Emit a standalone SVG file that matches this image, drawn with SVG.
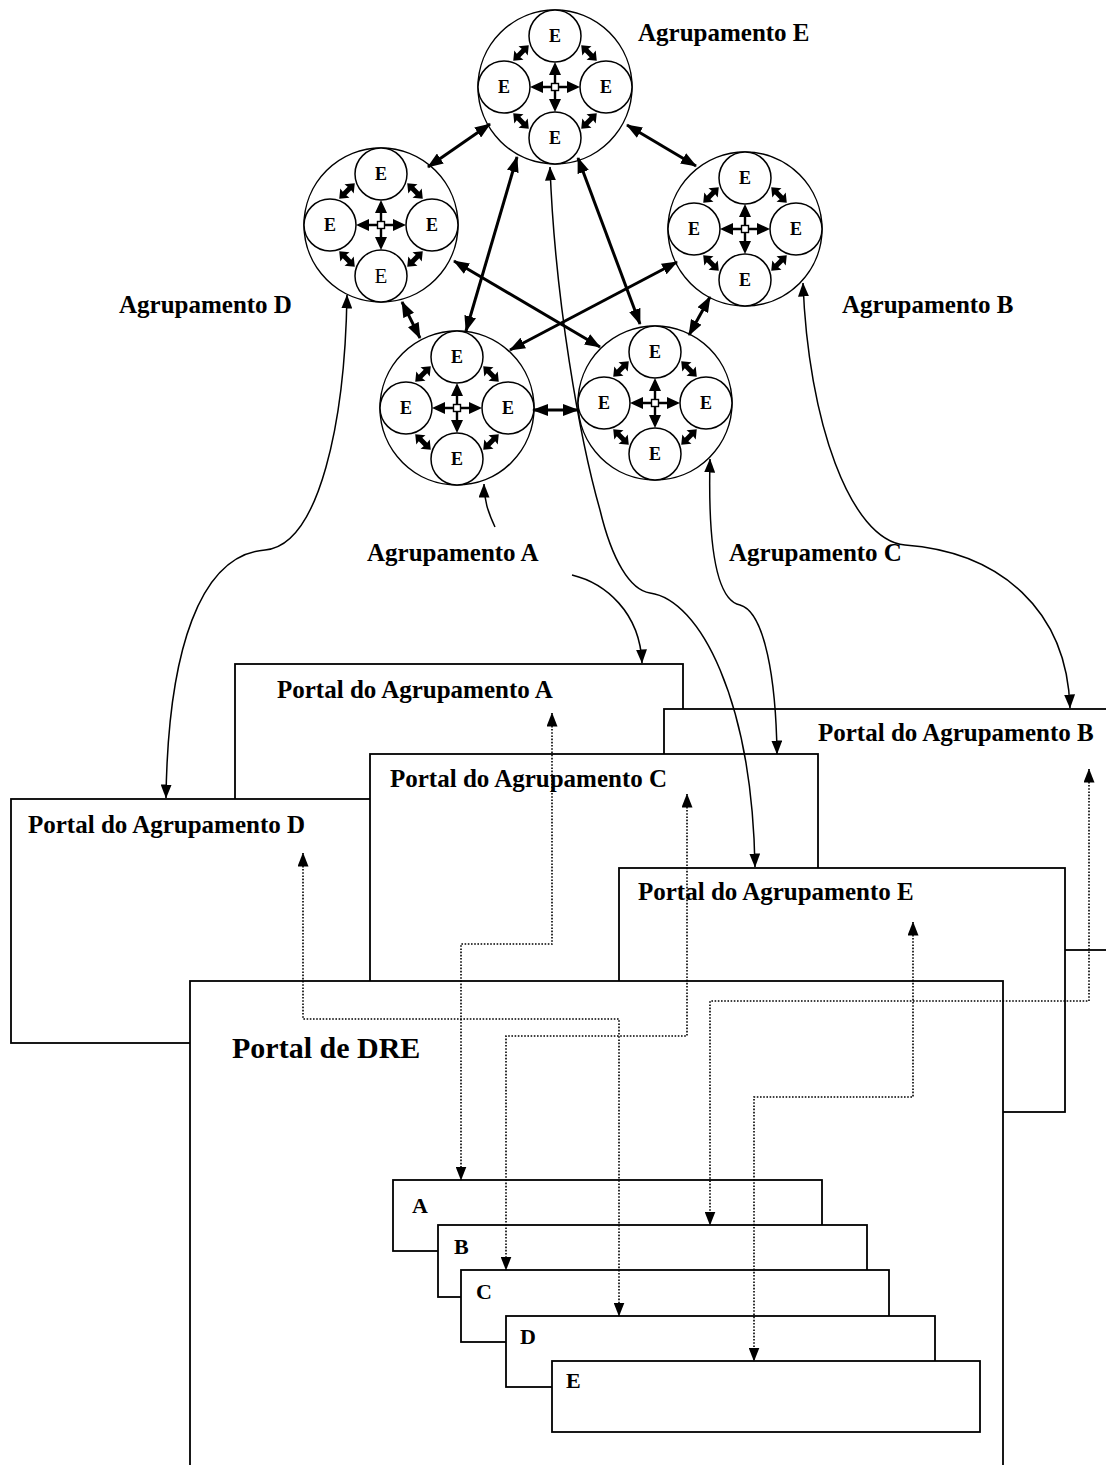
<svg xmlns="http://www.w3.org/2000/svg" xmlns:xlink="http://www.w3.org/1999/xlink" width="1106" height="1465" viewBox="0 0 1106 1465">
  <style>
    .box { fill: #fff; stroke: #000; stroke-width: 1.8; }
    .ring { fill: #fff; stroke: #000; stroke-width: 1.5; }
    .t { font-family: "Liberation Serif", "Times New Roman", serif; font-weight: bold; fill: #000; }
    .lbl { font-size: 25px; }
    .big { font-size: 30px; }
    .sm { font-size: 22px; }
    .e { font-size: 18px; text-anchor: middle; }
    .er { font-size: 21px; font-weight: normal; text-anchor: middle; }
    .thick { fill: none; stroke: #000; stroke-width: 3; marker-start: url(#hb); marker-end: url(#hb); }
    .thin { fill: none; stroke: #000; stroke-width: 1.5; }
    .two { marker-start: url(#ht); marker-end: url(#ht); }
    .one { marker-end: url(#ht); }
    .dot { fill: none; stroke: #000; stroke-width: 1.6; stroke-dasharray: 1.6 1.6; marker-start: url(#ht); marker-end: url(#ht); }
  </style>
  <defs>
    <!-- heavy arrowhead for links between clusters -->
    <marker id="hb" markerUnits="userSpaceOnUse" viewBox="0 0 16 12" markerWidth="16" markerHeight="12" refX="15" refY="6" orient="auto-start-reverse">
      <path d="M0,0 L16,6 L0,12 Z" fill="#000"/>
    </marker>
    <!-- light arrowhead for curves and dotted links -->
    <marker id="ht" markerUnits="userSpaceOnUse" viewBox="0 0 14 11" markerWidth="14" markerHeight="11" refX="13.5" refY="5.5" orient="auto-start-reverse">
      <path d="M0,0 L14,5.5 L0,11 Z" fill="#000"/>
    </marker>
    <!-- tiny double-headed arrow between neighbouring schools -->
    <polygon id="blob" points="-11,0 -3,-6.5 -3.5,-2.5 3.5,-2.5 3,-6.5 11,0 3,6.5 3.5,2.5 -3.5,2.5 -3,6.5" fill="#000"/>
    <!-- one cluster: ring with four schools and their links -->
    <g id="cl">
      <circle class="ring" r="77"/>
      <circle class="ring" cy="-51" r="26"/>
      <circle class="ring" cx="-51" r="26"/>
      <circle class="ring" cx="51" r="26"/>
      <circle class="ring" cy="51" r="26"/>
      <path d="M-14,0 H14 M0,-14 V14" stroke="#000" stroke-width="2.4"/>
      <rect x="-3.5" y="-3.5" width="7" height="7" fill="#fff" stroke="#000" stroke-width="1.4"/>
      <path d="M-25,0 L-12,-6 L-12,6 Z M25,0 L12,-6 L12,6 Z M0,-25 L-6,-12 L6,-12 Z M0,25 L-6,12 L6,12 Z" fill="#000"/>
      <use xlink:href="#blob" transform="translate(-34,-34) rotate(-45)"/>
      <use xlink:href="#blob" transform="translate(34,-34) rotate(45)"/>
      <use xlink:href="#blob" transform="translate(-34,34) rotate(45)"/>
      <use xlink:href="#blob" transform="translate(34,34) rotate(-45)"/>
    </g>
  </defs>

  <rect width="1106" height="1465" fill="#fff"/>

  <!-- portals, back to front -->
  <g id="portal-a">
    <rect class="box" x="235" y="664" width="448" height="300"/>
    <text class="t lbl" x="277" y="698">Portal do Agrupamento A</text>
  </g>
  <g id="portal-b">
    <rect class="box" x="664" y="709" width="460" height="241"/>
    <text class="t lbl" x="818" y="741">Portal do Agrupamento B</text>
  </g>
  <g id="portal-d">
    <rect class="box" x="11" y="799" width="400" height="244"/>
    <text class="t lbl" x="28" y="833">Portal do Agrupamento D</text>
  </g>
  <g id="portal-c">
    <rect class="box" x="370" y="754" width="448" height="300"/>
    <text class="t lbl" x="390" y="787">Portal do Agrupamento C</text>
  </g>
  <g id="portal-e">
    <rect class="box" x="619" y="868" width="446" height="244"/>
    <text class="t lbl" x="638" y="900">Portal do Agrupamento E</text>
  </g>
  <g id="portal-dre">
    <rect class="box" x="190" y="981" width="813" height="520"/>
    <text class="t big" x="232" y="1058">Portal de DRE</text>
  </g>

  <!-- per-cluster pages inside the DRE portal -->
  <g id="dre-a">
    <rect class="box" x="393" y="1180" width="429" height="71"/>
    <text class="t sm" x="412" y="1213">A</text>
  </g>
  <g id="dre-b">
    <rect class="box" x="438" y="1225" width="429" height="72"/>
    <text class="t sm" x="454" y="1254">B</text>
  </g>
  <g id="dre-c">
    <rect class="box" x="461" y="1270" width="428" height="72"/>
    <text class="t sm" x="476" y="1299">C</text>
  </g>
  <g id="dre-d">
    <rect class="box" x="506" y="1316" width="429" height="71"/>
    <text class="t sm" x="520" y="1344">D</text>
  </g>
  <g id="dre-e">
    <rect class="box" x="552" y="1361" width="428" height="71"/>
    <text class="t sm" x="566" y="1388">E</text>
  </g>

  <!-- school clusters -->
  <g id="cluster-e">
    <use xlink:href="#cl" x="555" y="87"/>
    <text class="t e" x="555" y="42">E</text>
    <text class="t e" x="504" y="93">E</text>
    <text class="t e" x="606" y="93">E</text>
    <text class="t e" x="555" y="144">E</text>
    <text class="t lbl" x="638" y="41">Agrupamento E</text>
  </g>
  <g id="cluster-d">
    <use xlink:href="#cl" x="381" y="225"/>
    <text class="t e" x="381" y="180">E</text>
    <text class="t e" x="330" y="231">E</text>
    <text class="t e" x="432" y="231">E</text>
    <text class="t er" x="381" y="283">E</text>
    <text class="t lbl" x="119" y="313">Agrupamento D</text>
  </g>
  <g id="cluster-b">
    <use xlink:href="#cl" x="745" y="229"/>
    <text class="t e" x="745" y="184">E</text>
    <text class="t e" x="694" y="235">E</text>
    <text class="t e" x="796" y="235">E</text>
    <text class="t e" x="745" y="286">E</text>
    <text class="t lbl" x="842" y="313">Agrupamento B</text>
  </g>
  <g id="cluster-a">
    <use xlink:href="#cl" x="457" y="408"/>
    <text class="t e" x="457" y="363">E</text>
    <text class="t e" x="406" y="414">E</text>
    <text class="t e" x="508" y="414">E</text>
    <text class="t e" x="457" y="465">E</text>
    <text class="t lbl" x="367" y="561">Agrupamento A</text>
  </g>
  <g id="cluster-c">
    <use xlink:href="#cl" x="655" y="403"/>
    <text class="t e" x="655" y="358">E</text>
    <text class="t e" x="604" y="409">E</text>
    <text class="t e" x="706" y="409">E</text>
    <text class="t e" x="655" y="460">E</text>
    <text class="t lbl" x="729" y="561">Agrupamento C</text>
  </g>

  <g id="connectors">
    <!-- links between clusters -->
    <path class="thick" d="M490,124 L428,167"/>
    <path class="thick" d="M627,125 L696,166"/>
    <path class="thick" d="M517,157 L466,331"/>
    <path class="thick" d="M578,158 L640,324"/>
    <path class="thick" d="M402,302 L420,338"/>
    <path class="thick" d="M454,261 L600,347"/>
    <path class="thick" d="M677,262 L510,350"/>
    <path class="thick" d="M710,297 L689,335"/>
    <path class="thick" d="M533,410 L578,410"/>

    <!-- clusters to their portals -->
    <path class="thin one" d="M495,527 C488,512 484,500 484,484"/>
    <path class="thin one" d="M572,575 C605,583 640,612 642,663"/>
    <path class="thin two" d="M347,295 C345,420 320,545 265,550 C200,555 168,650 166,798"/>
    <path class="thin two" d="M803,283 C808,420 850,540 905,545 C1000,552 1067,610 1070,708"/>
    <path class="thin two" d="M710,459 C708,540 715,600 740,605 C765,612 776,680 777,754"/>
    <path class="thin two" d="M550,167 C555,300 580,440 600,510 C612,560 630,590 650,593 C700,600 752,700 755,867"/>

    <!-- portals to their pages in the DRE portal -->
    <path class="dot" d="M552,713 V944 H461 V1180"/>
    <path class="dot" d="M303,853 V1019 H619 V1316"/>
    <path class="dot" d="M687,794 V1036 H506 V1270"/>
    <path class="dot" d="M1089,769 V1001 H710 V1225"/>
    <path class="dot" d="M913,922 V1097 H754 V1361"/>
  </g>
</svg>
